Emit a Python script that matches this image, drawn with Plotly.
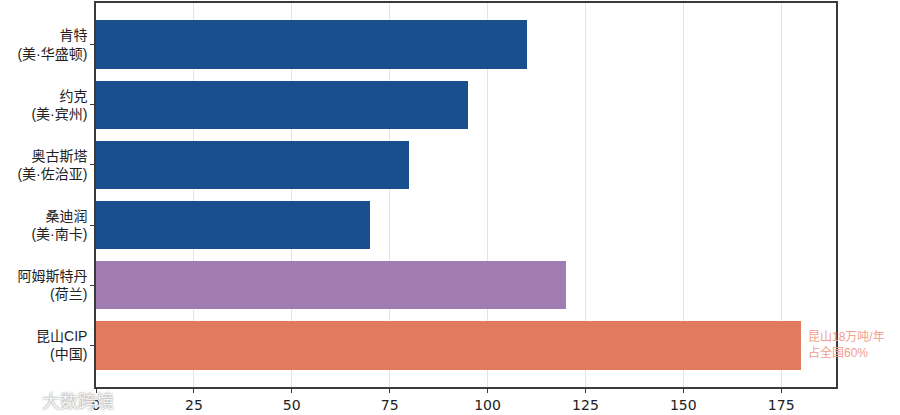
import plotly.graph_objects as go

# 各地产能 (万吨/年)
sites = ["肯特<br>(美·华盛顿)", "约克<br>(美·宾州)", "奥古斯塔<br>(美·佐治亚)",
         "桑迪润<br>(美·南卡)", "阿姆斯特丹<br>(荷兰)", "昆山CIP<br>(中国)"]
capacity = [110, 95, 80, 70, 120, 180]
colors = ["#1A4F8E", "#1A4F8E", "#1A4F8E", "#1A4F8E", "#A07CB0", "#E07B5F"]
x_ticks = [0, 25, 50, 75, 100, 125, 150, 175]

note = "昆山18万吨/年<br>占全国60%"
watermark = "大数跨境"

LABEL_FONT = "Liberation Sans, Noto Sans CJK SC, sans-serif"

fig = go.Figure()

fig.add_trace(
    go.Bar(
        x=capacity,
        y=list(range(len(sites))),
        orientation="h",
        width=0.8,
        marker=dict(color=colors, line=dict(width=0)),
        showlegend=False,
        hoverinfo="skip",
    )
)

fig.add_annotation(
    x=capacity[-1], y=len(sites) - 1,
    text=note,
    showarrow=False,
    xanchor="left", yanchor="middle", align="left",
    xshift=5,
    font=dict(size=12, color="#F0A08C", family=LABEL_FONT),
)

# video watermark at the bottom-left corner
fig.add_annotation(
    xref="paper", yref="paper", x=-0.076, y=-0.034,
    text=watermark,
    showarrow=False,
    xanchor="left", yanchor="middle",
    font=dict(size=18, color="#F4F4F4", family="Noto Sans CJK SC",
              shadow="0px 0px 2px #777777"),
)

fig.update_xaxes(
    range=[0, 189],
    tickvals=x_ticks,
    showgrid=True, gridcolor="#E4E4E4", gridwidth=1,
    showline=True, linecolor="#3A3A3A", linewidth=1.5, mirror=True,
    ticks="outside", ticklen=4, tickcolor="#3A3A3A",
    tickfont=dict(size=14, color="#222222", family="DejaVu Sans"),
    zeroline=False, automargin=False,
)

fig.update_yaxes(
    range=[5.69, -0.69],
    tickvals=list(range(len(sites))),
    ticktext=sites,
    showgrid=False,
    showline=True, linecolor="#3A3A3A", linewidth=1.5, mirror=True,
    ticks="outside", ticklen=4, tickcolor="#3A3A3A",
    tickfont=dict(size=14, color="#222222", family=LABEL_FONT),
    zeroline=False, automargin=False,
)

fig.update_layout(
    width=900, height=415,
    margin=dict(l=96, r=64, t=3, b=28),
    plot_bgcolor="white", paper_bgcolor="white",
    font=dict(family=LABEL_FONT),
    bargap=0,
)

# page body has a default margin; drop it so the figure sits at the window corner
fig.write_html("out.html", config={"displayModeBar": False},
               post_script="document.body.style.margin='0';")
